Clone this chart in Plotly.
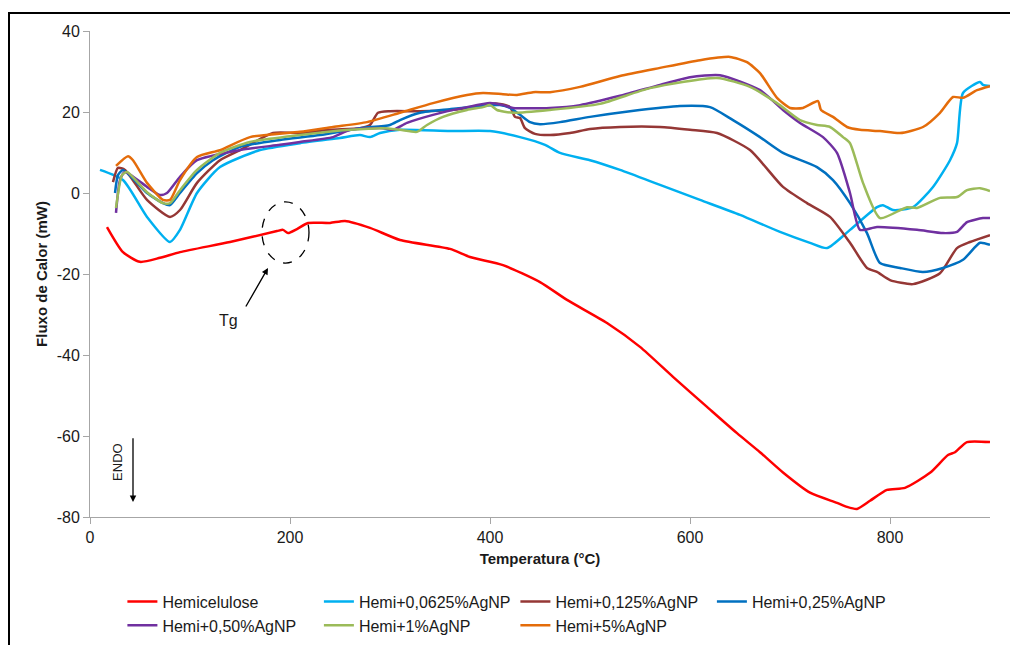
import plotly.graph_objects as go

# ---------------- data ----------------
hemi_T = [17, 33, 50, 70, 90, 140, 187, 193, 198, 207, 218, 240, 255, 280, 310, 360, 380, 413, 450, 477,
          517, 550, 583, 617, 647, 670, 693, 720, 747, 757, 767, 780, 797, 815, 840, 858, 865, 877, 900]
hemi_y = [-8.4, -14.6, -17.0, -16.0, -14.6, -12.1, -9.4, -9.1, -9.9, -8.9, -7.4, -7.4, -6.9, -8.6, -11.6,
          -13.8, -15.8, -17.8, -22.0, -26.4, -32.1, -38.0, -45.4, -52.8, -59.3, -64.0, -69.0, -74.0, -76.5,
          -77.5, -78.0, -76.0, -73.3, -72.8, -69.1, -64.7, -64.0, -61.5, -61.5]

h0625_T = [10, 33, 57, 80, 90, 107, 130, 170, 210, 250, 270, 280, 290, 310, 360, 400, 430, 455, 470, 500,
           530, 570, 610, 650, 690, 720, 737, 760, 787, 793, 803, 823, 843, 860, 867, 873, 890, 893, 900]
h0625_y = [5.7, 3.2, -5.9, -12.1, -9.1, 0.0, 6.4, 10.6, 12.3, 13.6, 14.3, 13.8, 14.8, 15.6, 15.3, 15.3,
           13.8, 11.9, 9.9, 8.1, 5.7, 2.0, -1.7, -5.4, -9.6, -12.3, -13.6, -9.1, -3.5, -3.0, -4.2, -3.5,
           1.5, 8.1, 12.3, 24.7, 27.4, 26.7, 26.4]

h125_T = [23, 28, 35, 57, 80, 90, 107, 130, 150, 183, 210, 240, 270, 280, 288, 300, 330, 360, 390, 400,
          410, 420, 425, 430, 435, 445, 460, 480, 500, 530, 570, 600, 627, 660, 693, 717, 740, 760, 777,
          787, 800, 823, 850, 867, 880, 900]
h125_y = [2.7, 6.2, 5.7, -1.7, -5.9, -4.2, 2.5, 8.1, 10.6, 14.8, 14.8, 15.6, 16.0, 16.8, 19.8, 20.2, 20.2,
          20.5, 21.5, 22.0, 22.0, 21.2, 18.8, 18.5, 16.0, 14.6, 14.3, 14.8, 15.8, 16.3, 16.3, 15.6, 14.8,
          10.6, 1.5, -2.5, -5.9, -12.3, -18.5, -19.5, -21.5, -22.5, -19.8, -13.6, -12.1, -10.4]

h25_T = [25, 28, 33, 57, 73, 80, 90, 107, 123, 150, 190, 230, 270, 300, 310, 330, 360, 390, 410, 420,
         430, 440, 450, 470, 500, 540, 590, 620, 643, 670, 693, 727, 743, 760, 777, 790, 810, 833, 853,
         873, 890, 900]
h25_y = [0.0, 4.4, 5.7, 0.0, -2.5, -3.0, 0.0, 4.9, 8.1, 11.4, 13.1, 14.3, 16.0, 16.8, 18.0, 19.8, 20.7,
         21.5, 21.7, 21.0, 19.3, 17.5, 17.0, 17.5, 18.8, 20.2, 21.5, 21.2, 18.0, 13.8, 9.9, 6.4, 3.2,
         -2.5, -9.9, -17.3, -18.5, -19.5, -18.5, -16.5, -12.3, -12.8]

h50_T = [26, 30, 35, 57, 70, 77, 90, 107, 150, 190, 210, 243, 260, 293, 303, 317, 343, 377, 400, 413,
         423, 460, 490, 530, 570, 600, 630, 670, 693, 710, 733, 747, 760, 770, 787, 827, 853, 867, 877,
         893, 900]
h50_y = [-4.9, 3.2, 5.2, 1.5, -0.5, 0.0, 4.0, 8.1, 10.6, 11.9, 12.6, 13.8, 15.6, 16.0, 15.6, 17.3, 19.3,
         21.2, 22.2, 21.7, 21.0, 21.0, 21.7, 24.0, 26.7, 28.6, 29.1, 25.4, 20.5, 17.3, 13.8, 9.9, 0.0,
         -9.1, -8.4, -9.1, -9.9, -9.6, -7.2, -6.2, -6.2]

h1_T = [26, 32, 37, 57, 73, 80, 90, 107, 130, 160, 210, 260, 293, 310, 327, 337, 353, 377, 393, 400,
        407, 423, 460, 510, 560, 627, 660, 687, 710, 727, 740, 753, 760, 773, 790, 817, 827, 850, 867,
        877, 890, 900]
h1_y = [-3.7, 4.4, 5.2, 0.2, -2.5, -2.5, 0.7, 5.7, 9.9, 12.6, 14.3, 15.6, 16.0, 15.6, 15.1, 16.8, 18.8,
        20.5, 21.2, 21.7, 20.5, 19.8, 20.5, 22.0, 25.9, 28.4, 26.2, 22.2, 18.0, 16.8, 16.3, 13.8, 12.3,
        2.5, -6.2, -3.5, -3.7, -1.2, -1.0, 0.7, 1.2, 0.5]

h5_T = [26, 38, 43, 57, 73, 80, 90, 107, 130, 160, 210, 243, 277, 310, 343, 377, 393, 413, 427, 443,
        460, 490, 530, 570, 610, 640, 657, 670, 687, 700, 713, 728, 731, 743, 757, 770, 790, 810, 833,
        850, 863, 873, 887, 900]
h5_y = [6.7, 9.1, 8.1, 2.5, -1.7, -1.7, 3.2, 8.9, 10.6, 13.8, 15.1, 16.3, 17.5, 19.8, 22.2, 24.2, 24.7,
        24.4, 24.2, 24.9, 24.9, 26.2, 28.9, 30.9, 32.8, 33.6, 32.3, 29.6, 23.5, 21.0, 21.0, 22.7, 20.5,
        18.8, 16.3, 15.6, 15.3, 14.8, 16.3, 19.8, 23.7, 23.5, 25.4, 26.4]

series_names = ["Hemicelulose", "Hemi+0,0625%AgNP", "Hemi+0,125%AgNP", "Hemi+0,25%AgNP",
                "Hemi+0,50%AgNP", "Hemi+1%AgNP", "Hemi+5%AgNP"]
series_T = [hemi_T, h0625_T, h125_T, h25_T, h50_T, h1_T, h5_T]
series_y = [hemi_y, h0625_y, h125_y, h25_y, h50_y, h1_y, h5_y]
colors = ["#FF0000", "#00B0F0", "#953735", "#0070C0", "#7030A0", "#9BBB59", "#E46C0A"]

x_ticks = [0, 200, 400, 600, 800]
y_ticks = [-80, -60, -40, -20, 0, 20, 40]
y_ticklabels = ["-80", "-60", "-40", "-20", "0", "20", "40"]

FONT = "Arial, 'Liberation Sans', sans-serif"

fig = go.Figure()
for name, T, y, c in zip(series_names, series_T, series_y, colors):
    fig.add_trace(go.Scatter(x=T, y=y, name=name, mode="lines",
                             line=dict(color=c, width=2.5, shape="spline", smoothing=0.6)))

axis_common = dict(showgrid=False, zeroline=False, showline=True, linecolor="#A6A6A6", linewidth=1,
                   ticks="outside", ticklen=6, tickcolor="#A6A6A6",
                   tickfont=dict(family=FONT, size=16, color="#1a1a1a"))

fig.update_layout(
    width=1010, height=645,
    margin=dict(l=90, r=20, t=31, b=128, autoexpand=False),
    paper_bgcolor="white", plot_bgcolor="white",
    font=dict(family=FONT, size=16, color="#1a1a1a"),
    xaxis=dict(range=[0, 900], tickvals=x_ticks, **axis_common,
               title=dict(text="<b>Temperatura (°C)</b>", font=dict(family=FONT, size=15), standoff=8)),
    yaxis=dict(range=[-80, 40], tickvals=y_ticks, ticktext=y_ticklabels, **axis_common,
               title=dict(text="<b>Fluxo de Calor (mW)</b>", font=dict(family=FONT, size=15), standoff=5)),
    showlegend=True,
    legend=dict(orientation="h", x=0.036, xanchor="left", y=-0.139, yanchor="top",
                entrywidth=151.5, entrywidthmode="pixels", traceorder="normal",
                font=dict(family=FONT, size=16, color="#1a1a1a"), itemwidth=30,
                bgcolor="rgba(0,0,0,0)"),
)

# outer frame
fig.add_shape(type="rect", xref="paper", yref="paper",
              x0=(9 - 90) / 900, x1=(1030 - 90) / 900, y0=(517 - 670) / 486, y1=(517 - 13) / 486,
              line=dict(color="black", width=2), fillcolor="rgba(0,0,0,0)", layer="below")

# dashed ellipse around Tg
fig.add_shape(type="circle", xref="x", yref="y", x0=172, x1=219, y0=-17.3, y1=-2.2,
              line=dict(color="black", width=1.3, dash="dash"))

# Tg arrow and label
fig.add_annotation(x=178, y=-18.5, ax=155, ay=-28.4, axref="x", ayref="y", xref="x", yref="y",
                   text="", showarrow=True, arrowhead=2, arrowsize=1, arrowwidth=1.3, arrowcolor="black")
fig.add_annotation(x=138, y=-31.6, xref="x", yref="y", text="Tg", showarrow=False,
                   font=dict(family=FONT, size=16, color="#1a1a1a"))

# ENDO arrow and label
fig.add_annotation(x=43, y=-76.3, ax=43, ay=-60.2, axref="x", ayref="y", xref="x", yref="y",
                   text="", showarrow=True, arrowhead=2, arrowsize=1, arrowwidth=1.3, arrowcolor="black")
fig.add_annotation(x=28, y=-66.4, xref="x", yref="y", text="ENDO", showarrow=False, textangle=-90,
                   font=dict(family=FONT, size=13, color="#1a1a1a"))

fig.write_html("out.html")
